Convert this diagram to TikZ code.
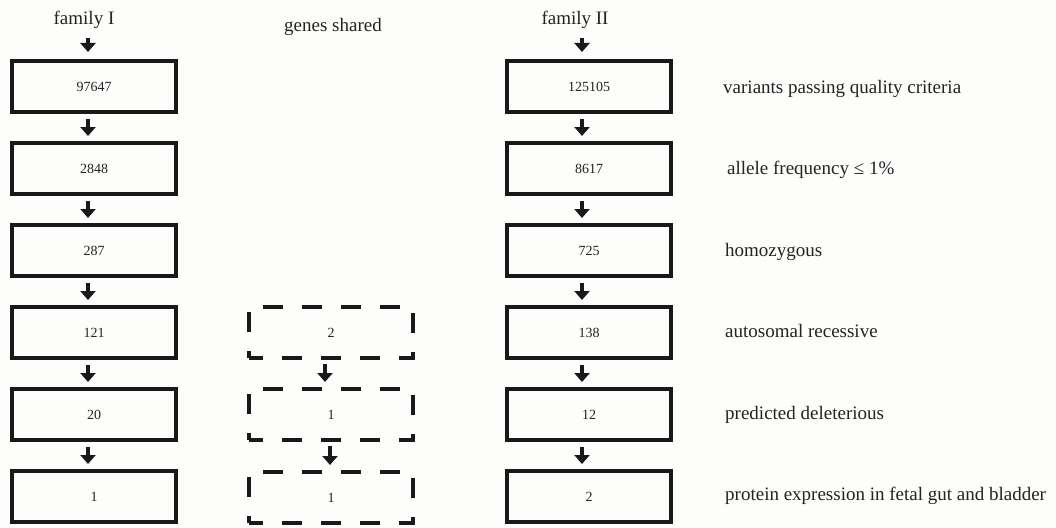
\documentclass[tikz,border=0pt]{standalone}
\usepackage{fontspec}
\setmainfont{Liberation Serif}
\usetikzlibrary{arrows.meta}
\definecolor{bg}{RGB}{253,253,251}
\definecolor{ink}{RGB}{25,25,25}
\definecolor{txt}{RGB}{35,35,35}
\tikzset{
  solidbox/.style={draw=ink, line width=4pt, minimum width=164pt, minimum height=51pt, inner sep=0pt, text=txt, font=\fontsize{14}{16}\selectfont},
  dashbox/.style={solidbox, dash pattern=on 20pt off 19pt, dash phase=6pt},
  arr/.style={draw=ink, line width=3.7pt, -{Triangle[width=15pt,length=9pt]}},
  lbl/.style={anchor=base, inner sep=0pt, text=txt, font=\fontsize{19}{22}\selectfont},
  crit/.style={anchor=base west, inner sep=0pt, text=txt, font=\fontsize{19}{22}\selectfont}
}
\begin{document}
\begin{tikzpicture}[x=1pt,y=-1pt]
\useasboundingbox[fill=bg] (0,0) rectangle (1056,527);
% headers
\node[lbl] (famI) at (84,25) {family I};
\node[lbl] (genes) at (333,32) {genes shared};
\node[lbl] (famII) at (575,25) {family II};
% left column
\node[solidbox] (a1) at (94,86.5) {97647};
\node[solidbox] (a2) at (94,168.5) {2848};
\node[solidbox] (a3) at (94,250.5) {287};
\node[solidbox] (a4) at (94,332.5) {121};
\node[solidbox] (a5) at (94,414.5) {20};
\node[solidbox] (a6) at (94,496.5) {1};
% right column
\node[solidbox] (b1) at (589,86.5) {125105};
\node[solidbox] (b2) at (589,168.5) {8617};
\node[solidbox] (b3) at (589,250.5) {725};
\node[solidbox] (b4) at (589,332.5) {138};
\node[solidbox] (b5) at (589,414.5) {12};
\node[solidbox] (b6) at (589,496.5) {2};
% middle dashed
\node[dashbox] (c4) at (331,332.5) {2};
\node[dashbox] (c5) at (331,414.5) {1};
\node[dashbox] (c6) at (331,497.5) {1};
% criteria labels
\node[crit] (l1) at (723,93) {variants passing quality criteria};
\node[crit] (l2) at (727,174) {allele frequency ≤ 1\%};
\node[crit] (l3) at (725,256) {homozygous};
\node[crit] (l4) at (725,337) {autosomal recessive};
\node[crit] (l5) at (725,419) {predicted deleterious};
\node[crit] (l6) at (725,500) {protein expression in fetal gut and bladder};
% top arrows
\coordinate (sA) at (88,38);
\coordinate (sB) at (582,38);
\draw[arr] (sA) -- ([xshift=-6pt,yshift=7pt]a1.north);
\draw[arr] (sB) -- ([xshift=-7pt,yshift=7pt]b1.north);
% left arrows
\foreach \i/\j in {1/2,2/3,3/4,4/5,5/6}{
  \draw[arr] ([xshift=-6pt,yshift=-5pt]a\i.south) -- ([xshift=-6pt,yshift=5pt]a\j.north);
  \draw[arr] ([xshift=-7pt,yshift=-5pt]b\i.south) -- ([xshift=-7pt,yshift=5pt]b\j.north);
}
% middle arrows
\draw[arr] ([xshift=-6pt,yshift=-4pt]c4.south) -- ([xshift=-6pt,yshift=5pt]c5.north);
\draw[arr] ([xshift=-1pt,yshift=-4pt]c5.south) -- ([xshift=-1pt,yshift=5pt]c6.north);
\end{tikzpicture}
\end{document}
